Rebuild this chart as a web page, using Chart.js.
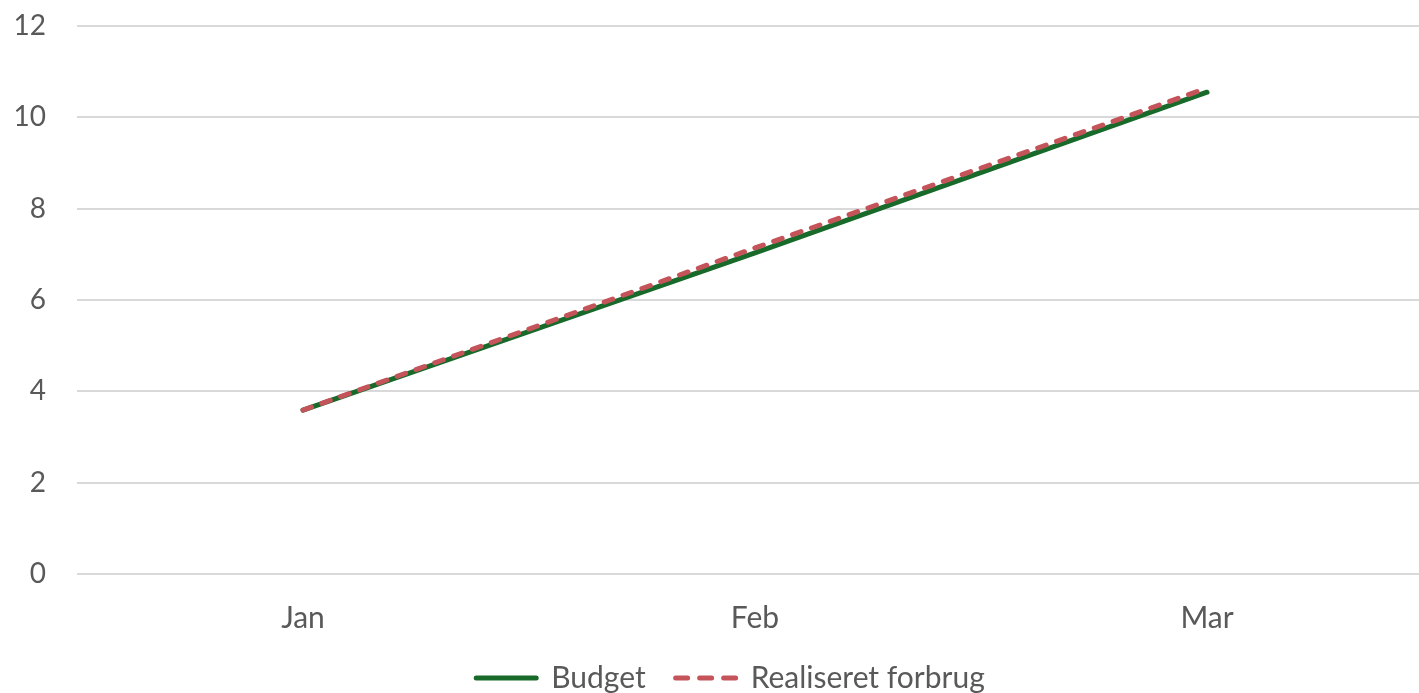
<!DOCTYPE html>
<html>
<head>
<meta charset="utf-8">
<script src="https://cdn.jsdelivr.net/npm/chart.js@4"></script>
<style>
  html, body { margin: 0; padding: 0; background: #fff; overflow: hidden; }
  #wrap { width: 1433px; height: 693px; }
</style>
</head>
<body>
<div id="wrap"><canvas id="chart1" width="1433" height="693"></canvas></div>
<script>
// values
const months = ["Jan", "Feb", "Mar"];
const budget = [3.59, 7.03, 10.55];
const realiseret = [3.59, 7.14, 10.64];
const yMin = 0, yMax = 12, yStep = 2;

const FONT = "Lato, 'Open Sans', sans-serif";
const TEXT = "#595959";

// nudge the legend a bit right, like the Excel original
const legendShift = {
    id: "legendShift",
    afterLayout(chart) {
        chart.legend.left += 14;
        chart.legend.right += 14;
    }
};

new Chart("chart1", {
    type: "line",
    data: {
        labels: months,
        datasets: [{
            label: "Budget",
            data: budget,
            order: 1, // drawn under the dashed line
            borderColor: "#186a2b",
            backgroundColor: "#186a2b",
            borderWidth: 5,
            borderCapStyle: "round",
            pointRadius: 0,
            pointStyle: "line",
            tension: 0
        }, {
            label: "Realiseret forbrug",
            data: realiseret,
            order: 0,
            borderColor: "#c4545a",
            backgroundColor: "#c4545a",
            borderWidth: 5,
            borderDash: [9, 11],
            borderCapStyle: "round",
            pointRadius: 0,
            pointStyle: "line",
            tension: 0
        }]
    },
    plugins: [legendShift],
    options: {
        responsive: false,
        animation: false,
        layout: { padding: { top: 26, left: 0, right: 0, bottom: -10 } },
        plugins: {
            tooltip: { enabled: false },
            legend: {
                position: "bottom",
                labels: {
                    usePointStyle: true,
                    pointStyleWidth: 60,
                    padding: 30,
                    color: TEXT,
                    font: { family: FONT, size: 30 },
                    sort: (a, b) => a.datasetIndex - b.datasetIndex,
                    // point style drops the dash, so put it back for the sample line
                    generateLabels: (chart) =>
                        Chart.defaults.plugins.legend.labels.generateLabels(chart).map((item) => {
                            const ds = chart.data.datasets[item.datasetIndex];
                            item.lineWidth = ds.borderWidth;
                            item.lineCap = "round";
                            item.lineDash = ds.borderDash ? [12, 12] : [];
                            return item;
                        })
                }
            }
        },
        scales: {
            x: {
                offset: true,
                grid: { display: false, drawTicks: false },
                border: { display: false },
                ticks: { color: TEXT, padding: 26, font: { family: FONT, size: 30 } },
                afterFit: (scale) => {
                    scale.height = 59;
                    scale.paddingLeft = 0;
                    scale.paddingRight = 0;
                }
            },
            y: {
                min: yMin,
                max: yMax,
                grid: { color: "#d9d9d9", lineWidth: 2, drawTicks: false },
                border: { display: false },
                ticks: { stepSize: yStep, color: TEXT, padding: 31, font: { family: FONT, size: 28 } },
                afterFit: (scale) => {
                    scale.width = 77;
                    scale.paddingTop = 0;
                    scale.paddingBottom = 0;
                }
            }
        }
    }
});
</script>
</body>
</html>
